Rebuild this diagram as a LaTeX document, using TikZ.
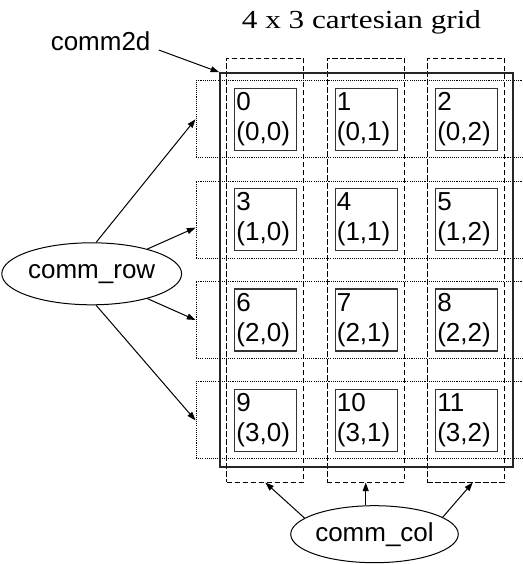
\documentclass[tikz,border=0pt]{standalone}
\usepackage{fontspec}
\setmainfont{Liberation Sans}
\newfontfamily\titlefont{Liberation Serif}
\usetikzlibrary{arrows.meta,positioning,shapes.geometric}

\begin{document}
\begin{tikzpicture}[x=0.75pt,y=-0.75pt,>={Triangle[length=6.5pt,width=4.5pt]},
    node distance=75.3pt,font=\fontsize{19.5}{22.5}\selectfont,
    proc/.style={draw=black!80,line width=0.9pt,minimum size=46.5pt,inner sep=1pt,text width=44pt,align=left},
    rowgrp/.style={draw,line width=0.7pt,dash pattern=on 0.8pt off 0.8pt,minimum width=258pt,minimum height=57.75pt},
    colgrp/.style={draw,line width=0.75pt,dash pattern=on 4pt off 2pt,minimum width=58pt,minimum height=318pt},
    comm/.style={draw,ellipse,inner sep=0pt,line width=0.75pt},
    link/.style={->,line width=0.75pt}]
  \useasboundingbox (0,0) rectangle (523,564);
  \clip (0,0) rectangle (523,564);

  \node[rowgrp] (R0) at (368,119.2) {};
  \node[rowgrp] (R1) [below of=R0] {};
  \node[rowgrp] (R2) [below of=R1] {};
  \node[rowgrp] (R3) [below of=R2] {};

  \node[colgrp] (C0) at (265.3,270) {};
  \node[colgrp] (C1) [right of=C0] {};
  \node[colgrp] (C2) [right of=C1] {};

  \node[draw=black!85,line width=1.1pt,minimum width=219.75pt,minimum height=295.5pt] (G) at (366.5,270) {};

  \node[proc] (P0) at (265.8,119.2) {0\\(0,0)};
  \node[proc] (P1) [right of=P0] {1\\(0,1)};
  \node[proc] (P2) [right of=P1] {2\\(0,2)};
  \node[proc] (P3) [below of=P0] {3\\(1,0)};
  \node[proc] (P4) [right of=P3] {4\\(1,1)};
  \node[proc] (P5) [right of=P4] {5\\(1,2)};
  \node[proc] (P6) [below of=P3] {6\\(2,0)};
  \node[proc] (P7) [right of=P6] {7\\(2,1)};
  \node[proc] (P8) [right of=P7] {8\\(2,2)};
  \node[proc] (P9) [below of=P6] {9\\(3,0)};
  \node[proc] (P10) [right of=P9] {10\\(3,1)};
  \node[proc] (P11) [right of=P10] {11\\(3,2)};

  \node[font=\titlefont\fontsize{19.5}{21}\selectfont,anchor=base,inner sep=0pt] (T) at (361.5,28.3)
     {\scalebox{1.2}[1]{4 x 3 cartesian grid}};
  \node[anchor=base west,inner sep=0pt] (L2d) at (50.5,50) {comm2d};
  \node[comm,minimum width=112.5pt,minimum height=46.5pt] (CR) at (91.7,273.8) {comm\_row};
  \node[comm,minimum width=104.25pt,minimum height=42.75pt] (CC) at (374.5,534.2) {comm\_col};

  \draw[link] ([xshift=6pt]L2d.base east) -- (G.north west);
  \draw[link] (CR.82) -- (R0.west);
  \draw[link] (CR.24) -- ([yshift=-6pt]R1.west);
  \draw[link] (CR.-24) -- (R2.west);
  \draw[link] (CR.-82) -- (R3.west);
  \draw[link] (CC.167) -- (C0.south);
  \draw[link] (CC.north -| C1.south) -- (C1.south);
  \draw[link] (CC.14) -- ([xshift=5pt]C2.south);
\end{tikzpicture}
\end{document}
